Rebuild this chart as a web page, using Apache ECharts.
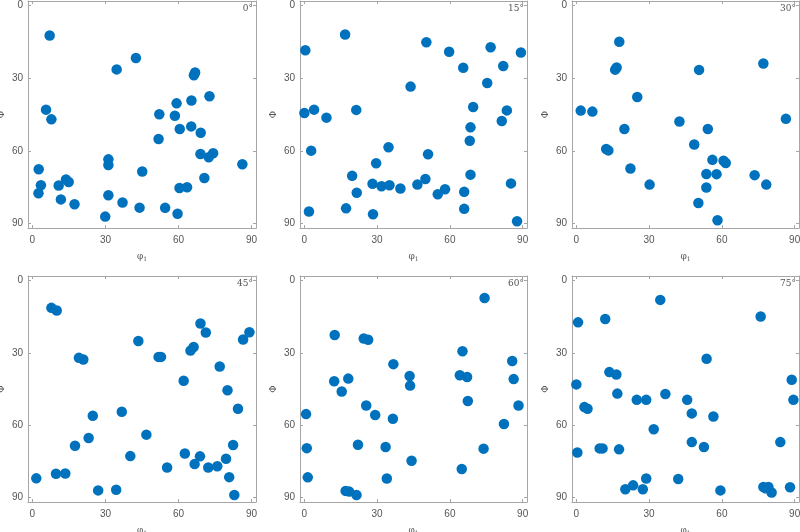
<!DOCTYPE html>
<html><head><meta charset="utf-8">
<script src="https://cdn.jsdelivr.net/npm/echarts@6/dist/echarts.min.js"></script>
<style>html,body{margin:0;padding:0;background:#fff}#c{width:800px;height:532px}</style>
</head><body><div id="c"></div>
<script>
// panel angle labels
const panelLabels = ['0°','15°','30°','45°','60°','75°'];
const tickValues = [0, 30, 60, 90];

// phi1 (x) and Phi (y) values for each panel
const phi1_0 = [7.1,42.5,34.6,66.3,66.8,72.7,59.2,65.3,5.6,7.8,52.1,58.5,60.5,65.2,69.1,51.8,69.0,72.4,74.2,86.2,31.2,31.2,45.1,2.6,3.5,2.5,10.8,13.8,14.9,11.7,17.3,31.2,37.0,44.0,54.5,59.6,29.9,60.4,63.5,70.6];
const Phi_0  = [12.4,21.7,26.4,28.8,27.7,37.5,40.4,39.2,43.0,47.0,44.9,45.5,51.0,49.9,52.5,55.1,61.3,62.6,61.0,65.5,63.5,65.8,68.5,67.6,74.2,77.5,74.3,71.8,72.8,80.0,82.0,78.3,81.3,83.4,83.5,85.9,87.1,75.3,75.0,71.2];

const phi1_15 = [16.8,0.4,50.3,59.7,76.8,89.3,65.5,82.0,75.4,43.8,0.0,4.0,9.1,21.4,69.6,83.5,81.4,68.5,68.2,2.8,34.7,51.0,29.6,19.7,68.5,28.1,31.8,35.1,39.6,46.6,49.9,58.0,55.0,65.9,85.2,21.6,1.9,17.2,28.3,65.9,87.7];
const Phi_15  = [12.0,18.5,15.2,19.1,17.3,19.4,25.7,25.0,32.0,33.5,44.4,43.0,46.3,43.1,41.9,43.3,47.7,50.3,55.8,59.9,58.5,61.4,65.1,70.3,69.8,73.6,74.6,74.2,75.5,73.9,71.6,75.8,77.9,76.9,73.4,77.3,85.0,83.7,86.1,83.9,89.0];

const phi1_30 = [17.7,16.0,16.6,50.6,77.1,25.1,1.8,6.6,19.8,42.5,54.2,86.4,48.6,12.3,13.2,56.1,60.7,61.6,22.3,53.6,57.8,73.5,30.2,78.3,53.6,50.3,58.2];
const Phi_30  = [15.0,26.5,25.6,26.6,24.0,37.8,43.4,43.8,51.0,47.9,51.0,46.8,57.4,59.2,59.8,63.7,64.1,65.0,67.3,69.5,69.6,70.0,73.9,73.9,75.1,81.5,88.6];

const phi1_45 = [7.8,10.0,69.0,71.2,89.1,86.5,43.5,66.2,64.9,19.1,20.9,51.8,52.8,76.9,62.1,80.1,84.4,36.7,24.8,46.8,23.1,17.5,82.4,40.2,62.6,68.8,66.6,72.2,75.9,79.5,55.3,9.7,13.5,1.6,80.8,27.0,34.4,82.9];
const Phi_45  = [11.4,12.5,17.9,21.6,21.5,24.5,25.1,27.6,29.1,32.1,32.8,31.7,31.7,35.7,41.6,45.5,53.2,54.4,56.1,63.9,65.3,68.5,68.2,72.8,71.7,72.9,76.1,77.5,77.0,73.9,77.5,80.1,80.0,82.0,81.5,87.0,86.7,88.9];

const phi1_60 = [74.3,12.5,24.5,26.3,65.2,85.7,36.7,43.4,64.1,67.1,86.3,12.3,18.1,15.4,43.6,67.4,88.3,25.5,29.2,36.5,0.7,82.3,1.0,22.1,33.5,73.9,44.2,64.9,1.4,34.0,17.0,18.5,21.5];
const Phi_60  = [7.3,22.6,24.1,24.6,29.4,33.4,34.7,39.6,39.3,40.0,40.9,41.8,40.7,46.0,43.6,50.0,51.8,51.8,55.8,57.3,55.4,59.5,69.5,68.1,69.0,69.7,74.7,78.1,81.6,82.1,87.2,87.5,88.9];

const phi1_75 = [34.6,0.7,11.9,76.0,53.7,13.6,16.5,16.9,0.0,24.9,28.8,36.7,45.7,88.8,89.5,3.3,4.6,47.6,56.5,31.9,47.6,52.6,84.1,0.4,9.6,10.8,17.6,28.8,42.0,23.4,20.2,27.4,59.4,77.1,79.2,78.0,80.5,88.1];
const Phi_75  = [8.1,17.4,16.0,15.0,32.5,38.0,39.0,46.9,43.1,49.5,49.5,47.1,49.5,41.2,49.5,52.5,53.2,55.1,56.4,61.7,67.0,69.0,67.0,71.3,69.6,69.6,70.0,82.1,82.3,84.9,86.5,86.5,87.0,85.6,85.6,86.1,87.9,85.7];

const panelsX = [phi1_0, phi1_15, phi1_30, phi1_45, phi1_60, phi1_75];
const panelsY = [Phi_0, Phi_15, Phi_30, Phi_45, Phi_60, Phi_75];

const colLeft = [28, 300, 572];
const colWidth = [228, 227, 227];
const rowTop = [1, 276];
const rowHeight = [227, 226];

const AX_MIN = -1.8, AX_MAX = 91.8;
const lineColor = '#a6a6a6';
const labelColor = '#555555';

const grids = [], xAxes = [], yAxes = [], series = [], graphics = [];
for (let i = 0; i < 6; i++) {
  const r = Math.floor(i / 3), c = i % 3;
  grids.push({left: colLeft[c], top: rowTop[r], width: colWidth[c], height: rowHeight[r], outerBoundsMode: 'none', containLabel: false});
  const common = {
    type: 'value', gridIndex: i, min: AX_MIN, max: AX_MAX,
    splitLine: {show: false},
    axisLine: {show: true, onZero: false, lineStyle: {color: lineColor, width: 1}},
    axisTick: {show: true, inside: true, length: 3, customValues: tickValues, lineStyle: {color: lineColor}},
    minorTick: {show: false}
  };
  // bottom x axis
  xAxes.push(Object.assign({}, common, {
    position: 'bottom',
    axisLabel: {show: true, customValues: tickValues, color: labelColor, fontSize: 10, fontFamily: 'Liberation Sans, Arial, sans-serif', margin: 7},
    name: '{a|φ}{b|1}', nameLocation: 'middle', nameGap: 24,
    nameTextStyle: {rich: {a: {fontFamily: 'DejaVu Serif, serif', fontSize: 9, color: labelColor}, b: {fontFamily: 'DejaVu Serif, serif', fontSize: 6, color: labelColor, verticalAlign: 'bottom', padding: [4, 0, 0, 0]}}}
  }));
  // top mirror x axis
  xAxes.push(Object.assign({}, common, {position: 'top', axisLabel: {show: false}}));
  // left y axis
  yAxes.push(Object.assign({}, common, {
    position: 'left', inverse: true,
    axisLabel: {show: true, customValues: tickValues, color: labelColor, fontSize: 10, fontFamily: 'Liberation Sans, Arial, sans-serif', margin: 5},
    name: 'Φ', nameLocation: 'middle', nameGap: 22, nameRotate: 90,
    nameTextStyle: {fontFamily: 'DejaVu Serif, serif', fontSize: 9, color: labelColor}
  }));
  // right mirror y axis
  yAxes.push(Object.assign({}, common, {position: 'right', inverse: true, axisLabel: {show: false}}));

  series.push({
    type: 'scatter', xAxisIndex: 2 * i, yAxisIndex: 2 * i,
    symbol: 'circle', symbolSize: 10.5,
    itemStyle: {color: '#0072BD', opacity: 1},
    data: panelsX[i].map((v, k) => [v, panelsY[i][k]]),
    emphasis: {disabled: true}, silent: true, animation: false
  });
  graphics.push({
    type: 'text', x: colLeft[c] + colWidth[c] - 3, y: rowTop[r] + 3,
    style: {text: panelLabels[i], align: 'right', verticalAlign: 'top', fill: labelColor, font: '9px "DejaVu Serif", serif'}
  });
}

const chart = echarts.init(document.getElementById('c'), null, {renderer: 'canvas'});
chart.setOption({
  animation: false,
  backgroundColor: '#ffffff',
  grid: grids, xAxis: xAxes, yAxis: yAxes, series: series, graphic: graphics
});
</script>
</body></html>
